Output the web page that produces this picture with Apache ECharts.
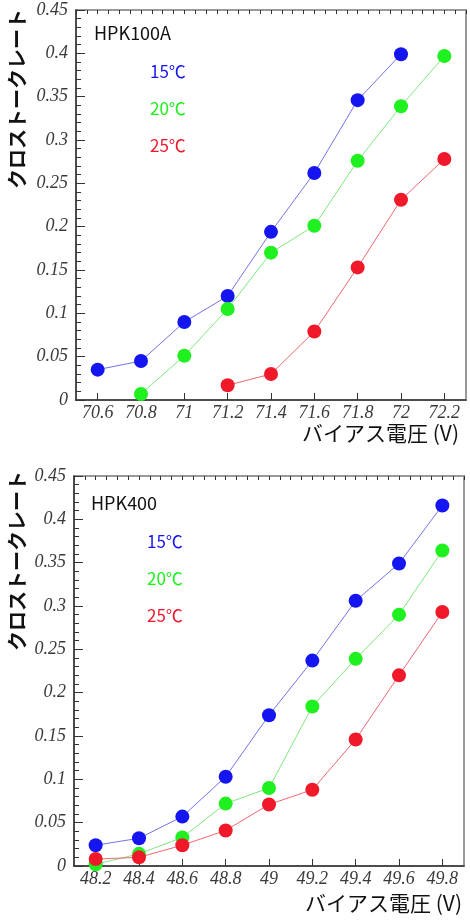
<!DOCTYPE html>
<html>
<head>
<meta charset="utf-8">
<script src="https://cdn.jsdelivr.net/npm/echarts@6/dist/echarts.min.js"></script>
<style>
    html, body {margin: 0; padding: 0; background: #fff;}
    #main {width: 470px; height: 923px;}
</style>
</head>
<body>
<div id="main"></div>
<script>
// 上图 HPK100A
var xBlueA = [70.6, 70.8, 71.0, 71.2, 71.4, 71.6, 71.8, 72.0];
var yBlueA = [0.035, 0.045, 0.090, 0.120, 0.194, 0.262, 0.346, 0.399];
var xGreenA = [70.8, 71.0, 71.2, 71.4, 71.6, 71.8, 72.0, 72.2];
var yGreenA = [0.007, 0.051, 0.105, 0.170, 0.201, 0.276, 0.339, 0.397];
var xRedA = [71.2, 71.4, 71.6, 71.8, 72.0, 72.2];
var yRedA = [0.017, 0.030, 0.079, 0.153, 0.231, 0.278];

// 下图 HPK400
var xB = [48.2, 48.4, 48.6, 48.8, 49.0, 49.2, 49.4, 49.6, 49.8];
var yBlueB = [0.024, 0.032, 0.057, 0.103, 0.174, 0.237, 0.306, 0.349, 0.416];
var yGreenB = [0.002, 0.014, 0.033, 0.072, 0.090, 0.184, 0.239, 0.290, 0.364];
var yRedB = [0.008, 0.010, 0.024, 0.041, 0.071, 0.088, 0.146, 0.220, 0.293];

// 刻度
var ticksA = [70.6, 70.8, 71, 71.2, 71.4, 71.6, 71.8, 72, 72.2];
var ticksB = [48.2, 48.4, 48.6, 48.8, 49, 49.2, 49.4, 49.6, 49.8];
var tempNames = ['15℃', '20℃', '25℃'];
var markColors = ['#1515f2', '#1ff01f', '#f0192a'];
var lineColors = ['#7373e8', '#7ee87e', '#ee6872'];

var labelFont = {fontFamily: 'Liberation Serif', fontStyle: 'italic', fontSize: 18, color: '#3a3a3a'};

function pairs(xs, ys) {
    var out = [];
    for (var i = 0; i < xs.length; i++) {
        out.push([xs[i], ys[i]]);
    }
    return out;
}

function mainX(grid, min, max, ticks) {
    return {
        type: 'value', gridIndex: grid, min: min, max: max,
        axisLine: {show: true, lineStyle: {color: '#333', width: 1.5}},
        axisTick: {show: true, inside: true, length: 7, customValues: ticks, lineStyle: {color: '#333'}},
        axisLabel: Object.assign({customValues: ticks, margin: 4}, labelFont),
        splitLine: {show: false}
    };
}

function minorX(grid, min, max) {
    return {
        type: 'value', gridIndex: grid, min: min, max: max, interval: 0.05,
        axisLine: {show: false},
        axisTick: {show: true, inside: true, length: 4, lineStyle: {color: '#333'}},
        axisLabel: {show: false},
        splitLine: {show: false}
    };
}

function yAx(grid) {
    return {
        type: 'value', gridIndex: grid, min: 0, max: 0.45, interval: 0.05,
        axisLine: {show: true, lineStyle: {color: '#333', width: 1.5}},
        axisTick: {show: true, inside: true, length: 9, lineStyle: {color: '#333'}},
        minorTick: {show: true, splitNumber: 5, length: 5, lineStyle: {color: '#333'}},
        axisLabel: Object.assign({margin: 8}, labelFont),
        splitLine: {show: false}
    };
}

function line(k, grid, data) {
    return {
        name: tempNames[k], type: 'line', xAxisIndex: grid * 2, yAxisIndex: grid,
        data: data, symbol: 'circle', symbolSize: 14, clip: false,
        itemStyle: {color: markColors[k]},
        lineStyle: {color: lineColors[k], width: 1},
        emphasis: {disabled: true},
        animation: false
    };
}

function legendAt(left, top) {
    var items = [];
    for (var i = 0; i < tempNames.length; i++) {
        items.push({name: tempNames[i], textStyle: {color: markColors[i]}});
    }
    return {
        orient: 'vertical', left: left, top: top, icon: 'none',
        itemWidth: 1, itemHeight: 14, itemGap: 17, padding: 0,
        textStyle: {fontFamily: 'Noto Sans CJK JP', fontSize: 17, lineHeight: 20},
        selectedMode: false,
        data: items
    };
}

function yName(x, y) {
    return {
        type: 'text', x: x, y: y, rotation: Math.PI / 2,
        style: {
            text: 'クロストークレート', fill: '#111', align: 'right', verticalAlign: 'middle',
            font: 'bold 20px "Noto Sans CJK JP"'
        }
    };
}

function xName(x, y) {
    return {
        type: 'text', x: x, y: y,
        style: {
            text: 'バイアス電圧 (V)', fill: '#111', align: 'right', verticalAlign: 'middle',
            font: '21px "Noto Sans CJK JP"'
        }
    };
}

var chart = echarts.init(document.getElementById('main'));
var option = {
    backgroundColor: '#fff',
    animation: false,
    title: [
        {text: 'HPK100A', left: 94, top: 24, padding: 0,
            textStyle: {fontFamily: 'Noto Sans CJK JP', fontSize: 18, fontWeight: 'normal', color: '#111'}},
        {text: 'HPK400', left: 91, top: 494, padding: 0,
            textStyle: {fontFamily: 'Noto Sans CJK JP', fontSize: 18, fontWeight: 'normal', color: '#111'}}
    ],
    legend: [legendAt(144, 62), legendAt(141, 532)],
    grid: [
        {left: 76, top: 10, width: 390, height: 390, show: true, borderColor: '#999', borderWidth: 2, backgroundColor: '#fff'},
        {left: 74, top: 476, width: 390, height: 390, show: true, borderColor: '#999', borderWidth: 2, backgroundColor: '#fff'}
    ],
    xAxis: [
        mainX(0, 70.5, 72.3, ticksA), minorX(0, 70.5, 72.3),
        mainX(1, 48.1, 49.9, ticksB), minorX(1, 48.1, 49.9)
    ],
    yAxis: [yAx(0), yAx(1)],
    series: [
        line(0, 0, pairs(xBlueA, yBlueA)),
        line(1, 0, pairs(xGreenA, yGreenA)),
        line(2, 0, pairs(xRedA, yRedA)),
        line(0, 1, pairs(xB, yBlueB)),
        line(1, 1, pairs(xB, yGreenB)),
        line(2, 1, pairs(xB, yRedB))
    ],
    graphic: [
        yName(17, 9), yName(17, 471),
        xName(459, 433), xName(462, 903)
    ]
};
chart.setOption(option);
</script>
</body>
</html>
